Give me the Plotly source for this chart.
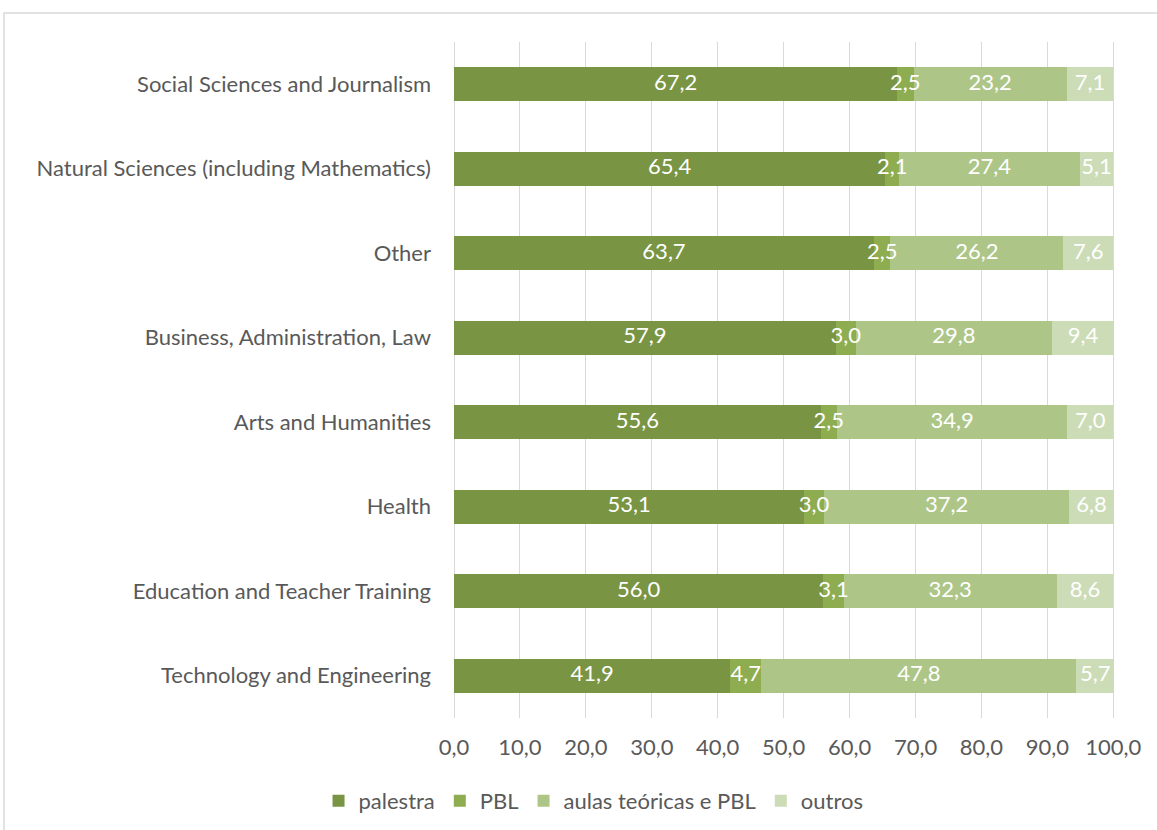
import numpy as np
import plotly.graph_objects as go

categories = [
    "Social Sciences and Journalism",
    "Natural Sciences (including Mathematics)",
    "Other",
    "Business, Administration, Law",
    "Arts and Humanities",
    "Health",
    "Education and Teacher Training",
    "Technology and Engineering",
]
palestra = [67.2, 65.4, 63.7, 57.9, 55.6, 53.1, 56.0, 41.9]
pbl = [2.5, 2.1, 2.5, 3.0, 2.5, 3.0, 3.1, 4.7]
aulas = [23.2, 27.4, 26.2, 29.8, 34.9, 37.2, 32.3, 47.8]
outros = [7.1, 5.1, 7.6, 9.4, 7.0, 6.8, 8.6, 5.7]

series = [
    ("palestra", palestra, "#799443"),
    ("PBL", pbl, "#8EAD50"),
    ("aulas teóricas e PBL", aulas, "#ADC688"),
    ("outros", outros, "#CCDCB7"),
]

FONT = "Lato"
FS = 22
fig = go.Figure()
for name, vals, color in series:
    fig.add_trace(go.Bar(
        y=categories, x=vals, name=name, orientation="h",
        marker=dict(color=color, line=dict(width=0)),
        width=0.4, hoverinfo="x+name",
    ))

# data labels, centred in each segment, drawn on top of all bars
base = np.zeros(len(categories))
for name, vals, color in series:
    v = np.array(vals)
    mid = base + v / 2
    fig.add_trace(go.Scatter(
        y=categories, x=mid, mode="text",
        text=[f"{x:.1f}".replace(".", ",") for x in v],
        textposition="middle center",
        textfont=dict(color="white", size=FS, family=FONT),
        showlegend=False, hoverinfo="skip", cliponaxis=False,
    ))
    base = base + v

fig.update_layout(
    barmode="stack",
    width=1157, height=830,
    separators=",.",
    paper_bgcolor="white", plot_bgcolor="white",
    margin=dict(l=454, r=42, t=42, b=112),
    font=dict(family=FONT, color="#595959", size=FS),
    xaxis=dict(range=[0, 100.25], dtick=10, tickformat=".1f",
               showgrid=True, gridcolor="#D9D9D9", gridwidth=1,
               zeroline=True, zerolinecolor="#D9D9D9", zerolinewidth=1,
               showline=False, ticks="",
               ticklabelstandoff=14,
               tickfont=dict(size=FS, color="#595959", family=FONT)),
    yaxis=dict(categoryorder="array", categoryarray=categories,
               autorange="reversed", showgrid=False, showline=False,
               ticks="", ticklabelstandoff=22,
               tickfont=dict(size=FS, color="#595959", family=FONT)),
    legend=dict(orientation="h", xref="container", yref="container",
                x=0.513, xanchor="center", y=0.035, yanchor="middle",
                font=dict(size=FS, color="#595959", family=FONT),
                itemwidth=30, traceorder="normal"),
    showlegend=True,
    bargap=0.6,
)
fig.add_shape(type="rect", xref="paper", yref="paper",
              x0=-450/661, x1=1.2, y0=-0.3, y1=(718-13)/676,
              line=dict(color="#D9D9D9", width=1.5), fillcolor="rgba(0,0,0,0)",
              layer="below")
fig.write_html("out.html")
